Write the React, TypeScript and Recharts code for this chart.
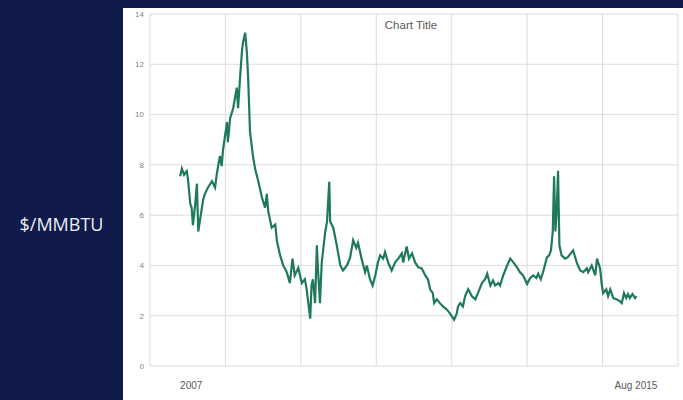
import { CartesianGrid, Line, LineChart, XAxis, YAxis } from "recharts";

// Henry Hub spot price, months since Jan 2007
const months = [
  0, 0.4, 0.9, 1.5, 1.8, 2.3, 2.6, 2.9, 3.4, 3.8, 4.1, 4.5, 5.2, 5.6, 6.3, 7.2, 7.9, 8.3, 9.0, 9.4,
  9.7, 10.6, 10.8, 11.3, 12.0, 12.8, 13.1, 13.6, 14.0, 14.2, 14.7, 15.1, 15.4, 15.8, 16.5, 17.0, 17.6, 18.5, 19.2, 19.6,
  19.9, 20.7, 21.5, 21.9, 22.6, 23.3, 24.1, 24.8, 25.4, 25.9, 26.7, 27.5, 28.2, 28.6, 29.4, 29.7, 30.0, 30.5, 30.9, 31.2,
  31.6, 32.0, 32.8, 33.2, 33.7, 33.9, 34.6, 35.4, 36.2, 36.8, 37.7, 38.4, 39.1, 39.8, 40.2, 41.0, 41.8, 42.2, 42.9, 43.5,
  44.1, 44.7, 45.2, 45.9, 46.3, 47.0, 47.8, 48.6, 49.3, 50.1, 50.4, 51.2, 51.7, 52.4, 53.1, 53.8, 54.6, 55.4, 56.0, 56.5,
  57.1, 57.4, 58.0, 58.7, 59.4, 60.3, 61.0, 61.9, 62.5, 62.8, 63.3, 63.9, 64.4, 65.1, 65.9, 66.7, 67.3, 68.2, 68.9, 69.4,
  70.1, 70.7, 71.2, 71.9, 72.3, 73.0, 73.9, 74.6, 75.3, 76.1, 76.8, 77.5, 78.4, 79.1, 79.8, 80.5, 80.9, 81.5, 82.0, 82.9,
  83.4, 83.8, 84.2, 84.5, 84.8, 85.1, 85.4, 85.7, 86.2, 87.0, 87.6, 88.5, 88.8, 89.6, 90.4, 91.1, 91.9, 92.2, 93.0, 93.8,
  94.2, 94.9, 95.3, 95.6, 96.3, 96.7, 97.2, 97.9, 98.7, 99.4, 99.8, 100.3, 100.8, 101.2, 101.6, 102.2, 102.8, 103.1,
];

const prices = [
  7.55, 7.85, 7.6, 7.75, 7.4, 6.45, 6.3, 5.6, 6.4, 7.25, 5.35, 5.8, 6.6, 6.85, 7.1, 7.35, 7.1, 7.65, 8.35, 7.95,
  8.6, 9.7, 8.9, 9.85, 10.25, 11.07, 10.25, 11.6, 12.57, 12.85, 13.26, 12.45, 11.35, 9.3, 8.3, 7.8, 7.4, 6.7, 6.3, 6.85,
  6.17, 5.5, 5.63, 4.95, 4.4, 4.0, 3.73, 3.3, 4.27, 3.6, 3.9, 3.3, 3.45, 3.05, 1.88, 3.2, 3.45, 2.5, 4.8, 3.7,
  2.5, 4.1, 5.35, 5.75, 7.33, 5.75, 5.5, 4.8, 4.0, 3.8, 4.0, 4.3, 5.0, 4.7, 4.9, 4.27, 3.73, 4.0, 3.45, 3.2,
  3.6, 4.12, 4.4, 4.27, 4.53, 4.12, 3.8, 4.12, 4.27, 4.48, 4.12, 4.75, 4.27, 4.48, 4.12, 3.93, 3.88, 3.6, 3.45, 3.05,
  2.9, 2.5, 2.65, 2.5, 2.37, 2.24, 2.08, 1.84, 2.08, 2.37, 2.5, 2.37, 2.78, 3.05, 2.78, 2.65, 2.9, 3.3, 3.45, 3.67,
  3.2, 3.4, 3.2, 3.3, 3.2, 3.6, 4.0, 4.27, 4.12, 3.93, 3.73, 3.6, 3.26, 3.5, 3.6, 3.5, 3.67, 3.45, 3.73, 4.33,
  4.4, 4.6, 5.35, 7.55, 5.35, 6.17, 7.76, 4.8, 4.4, 4.27, 4.33, 4.53, 4.6, 4.12, 3.8, 3.73, 3.88, 3.73, 4.0, 3.6,
  4.27, 3.88, 3.2, 2.9, 3.05, 2.78, 3.05, 2.7, 2.65, 2.57, 2.5, 2.9, 2.7, 2.86, 2.7, 2.86, 2.7, 2.78,
];

const xTicks = [0, 103];
const xTickLabels = ["2007", "Aug 2015"];
const yTicks = [0, 2, 4, 6, 8, 10, 12, 14];

const data = months.map((m, i) => ({ month: m, price: prices[i] }));

const NAVY = "#101a4b";
const FONT = "'Liberation Sans', Arial, sans-serif";

function DateTick({ x, y, payload, index }: any) {
  const label = xTickLabels[xTicks.indexOf(payload.value)] ?? "";
  return (
    <text
      x={x}
      y={y + 15}
      textAnchor={index === 0 ? "start" : "middle"}
      fontSize={10}
      fontFamily={FONT}
      fill="#595959"
    >
      {label}
    </text>
  );
}

export default function App() {
  return (
    <div
      style={{
        position: "fixed",
        left: 0,
        top: 0,
        width: 683,
        height: 400,
        background: NAVY,
        overflow: "hidden",
      }}
    >
      <div
        style={{
          position: "absolute",
          left: 0,
          width: 123,
          top: 212,
          textAlign: "center",
          color: "#eceef4",
          fontFamily: "'Open Sans', sans-serif",
          fontSize: 18,
        }}
      >
        $/MMBTU
      </div>

      <div
        style={{
          position: "absolute",
          left: 123,
          top: 8,
          width: 560,
          height: 392,
          background: "#ffffff",
        }}
      >
        <div
          style={{
            position: "absolute",
            left: 0,
            width: "100%",
            top: 11,
            textAlign: "center",
            paddingLeft: 16,
            boxSizing: "border-box",
            fontFamily: FONT,
            fontSize: 11.5,
            color: "#595959",
          }}
        >
          Chart Title
        </div>
        <LineChart width={560} height={392} data={data} margin={{ top: 6, right: 5, left: 0, bottom: 0 }}>
          <CartesianGrid
            stroke="#dcdcdc"
            verticalCoordinatesGenerator={({ offset }: any) =>
              Array.from({ length: 8 }, (_, i) => offset.left + (i * offset.width) / 7)
            }
          />
          <XAxis
            type="number"
            dataKey="month"
            domain={[-6.8, 112.5]}
            ticks={xTicks}
            tick={<DateTick />}
            tickLine={false}
            axisLine={false}
            height={34}
            allowDataOverflow
          />
          <YAxis
            domain={[0, 14]}
            ticks={yTicks}
            tickLine={false}
            axisLine={false}
            tickMargin={0}
            width={27}
            tick={{ fontSize: 8, fill: "#7f7f7f", fontFamily: FONT }}
          />
          <Line
            type="linear"
            dataKey="price"
            stroke="#1f7a5a"
            strokeWidth={2.2}
            dot={false}
            isAnimationActive={false}
          />
        </LineChart>
      </div>
    </div>
  );
}
